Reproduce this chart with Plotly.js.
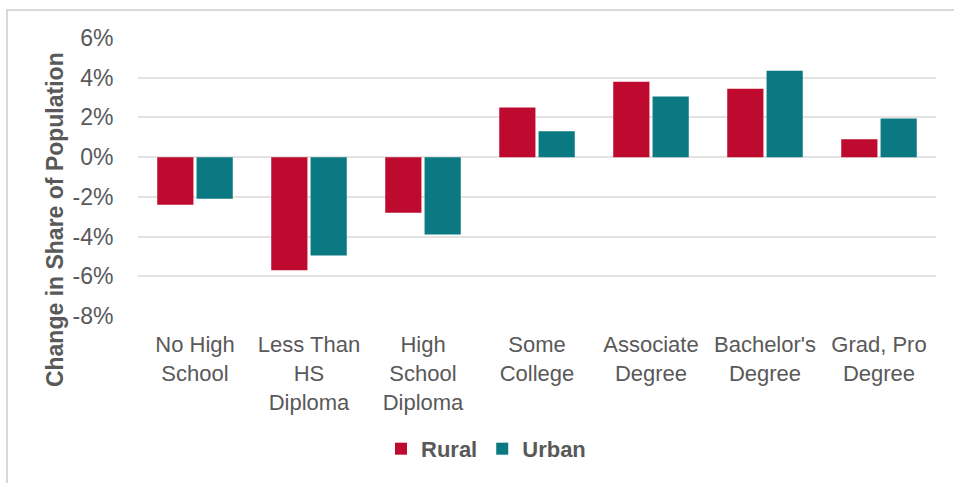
<!DOCTYPE html>
<html>
<head>
<meta charset="utf-8">
<script src="https://cdn.plot.ly/plotly-3.0.1.min.js"></script>
<style>
html,body{margin:0;padding:0;background:#fff;}
#frame{position:absolute;left:6px;top:9px;width:960px;height:490px;border-left:2px solid #d9d9d9;border-top:2px solid #d9d9d9;}
#chart{position:absolute;left:0;top:0;width:954px;height:483px;}
</style>
</head>
<body>
<div id="frame"></div>
<div id="chart"></div>
<script>
const categories = ["No High<br>School", "Less Than<br>HS<br>Diploma", "High<br>School<br>Diploma", "Some<br>College", "Associate<br>Degree", "Bachelor's<br>Degree", "Grad, Pro<br>Degree"];
const rural = [-2.4, -5.7, -2.8, 2.5, 3.8, 3.45, 0.9];
const urban = [-2.1, -4.95, -3.9, 1.3, 3.05, 4.35, 1.95];
const tickVals = [-8, -6, -4, -2, 0, 2, 4, 6];
const tickText = tickVals.map(v => v + "%");

const font = "Liberation Sans, Arial, sans-serif";
const gray = "#595959";

const traces = [
  {type: "bar", name: "Rural", x: categories, y: rural, marker: {color: "#be0a2e"}, hoverinfo: "y"},
  {type: "bar", name: "Urban", x: categories, y: urban, marker: {color: "#0a7981"}, hoverinfo: "y"}
];

const layout = {
  width: 954, height: 483,
  paper_bgcolor: "rgba(0,0,0,0)", plot_bgcolor: "rgba(0,0,0,0)",
  margin: {l: 138, r: 18, t: 38, b: 167},
  barmode: "group", bargap: 0.31, bargroupgap: 0.08,
  font: {family: font, color: gray, size: 22},
  showlegend: true,
  legend: {orientation: "h", x: 0.3045, xanchor: "left", y: -0.478, yanchor: "middle",
           font: {family: font, size: 22, color: gray, weight: "bold"}, itemwidth: 30, traceorder: "normal"},
  xaxis: {type: "category", showgrid: false, zeroline: false, showline: false,
          ticks: "outside", ticklen: 9, tickcolor: "rgba(0,0,0,0)",
          tickfont: {family: font, size: 22, color: gray}},
  yaxis: {range: [-8, 6], tickvals: tickVals, ticktext: tickText, showgrid: true,
          gridcolor: "#e3e3e3", gridwidth: 2, zeroline: true, zerolinecolor: "#e3e3e3", zerolinewidth: 2,
          showline: false, ticks: "outside", ticklen: 19, tickcolor: "rgba(0,0,0,0)",
          tickfont: {family: font, size: 23, color: gray}},
  annotations: [{text: "Change in Share of Population", textangle: -90, xref: "paper", yref: "paper",
                 x: -0.104, y: 0.345, xanchor: "center", yanchor: "middle", showarrow: false,
                 font: {family: font, size: 23, color: gray, weight: "bold"}}]
};

Plotly.newPlot("chart", traces, layout, {displayModeBar: false, staticPlot: true});
</script>
</body>
</html>
